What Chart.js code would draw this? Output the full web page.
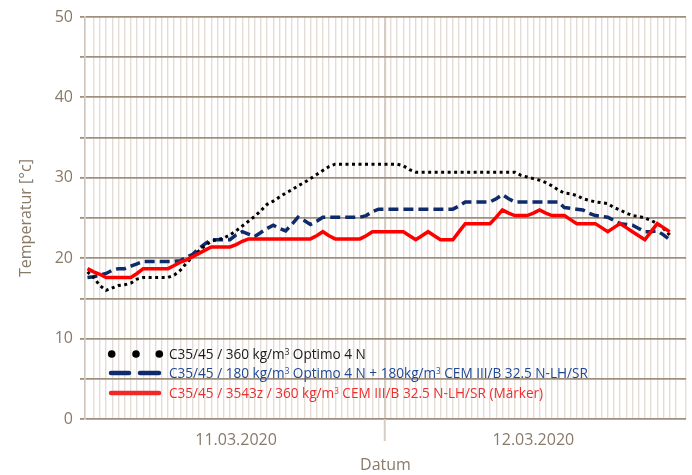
<!DOCTYPE html>
<html><head><meta charset="utf-8">
<script src="https://cdn.jsdelivr.net/npm/chart.js@4/dist/chart.umd.min.js"></script>
<style>
html,body{margin:0;padding:0;background:#fff;}
#wrap{position:relative;width:692px;height:475px;}
#legend{position:absolute;left:105px;top:0;font-family:"Open Sans",sans-serif;font-size:13.6px;}
.row{position:absolute;left:0;white-space:nowrap;height:20px;display:flex;align-items:center;}
.row svg{flex:0 0 auto;}
.row span{margin-left:0;line-height:20px;}
sup{font-size:0.6em;vertical-align:0.55em;line-height:0;}
</style></head>
<body>
<div id="wrap">
<canvas id="c" width="692" height="475"></canvas>
<div id="legend"></div>
</div>
<script>
// time axis: hours since 11.03.2020 00:00, half-hourly readings
const hours = [0,0.5,1,1.5,2,2.5,3,3.5,4,4.5,5,5.5,6,6.5,7,7.5,8,8.5,9,9.5,10,10.5,11,11.5,12,12.5,13,13.5,14,14.5,15,15.5,16,16.5,17,17.5,18,18.5,19,19.5,20,20.5,21,21.5,22,22.5,23,23.5,24,24.5,25,25.5,26,26.5,27,27.5,28,28.5,29,29.5,30,30.5,31,31.5,32,32.5,33,33.5,34,34.5,35,35.5,36,36.5,37,37.5,38,38.5,39,39.5,40,40.5,41,41.5,42,42.5,43,43.5,44,44.5,45,45.5,46,46.5,47];

const optimo = [18.3,17.6,16.6,16.0,16.3,16.6,16.7,16.9,17.4,17.6,
 17.6,17.6,17.6,17.6,17.9,18.5,19.4,20.2,20.9,21.6,
 22.1,22.3,22.5,22.9,23.4,24.0,24.6,25.2,25.9,26.7,
 27.1,27.6,28.1,28.5,29.0,29.4,29.9,30.4,30.9,31.4,
 31.7,31.7,31.7,31.7,31.7,31.7,31.7,31.7,31.7,31.7,
 31.7,31.5,31.0,30.7,30.7,30.7,30.7,30.7,30.7,30.7,
 30.7,30.7,30.7,30.7,30.7,30.7,30.7,30.7,30.7,30.7,
 30.3,30.1,29.9,29.7,29.4,29.0,28.5,28.1,28.0,27.8,
 27.4,27.2,27.0,26.9,26.8,26.3,26.0,25.6,25.3,25.2,
 25.0,24.7,24.3,23.7,22.9];

const optimoCem = [17.6,17.7,17.9,18.1,18.5,18.7,18.7,19.0,19.3,19.6,
 19.6,19.6,19.6,19.6,19.6,19.7,20.1,20.5,21.2,21.8,
 22.3,22.3,22.3,22.3,22.9,23.3,23.0,22.7,23.2,23.7,
 24.1,23.7,23.4,24.2,25.1,24.7,24.2,24.6,25.1,25.1,
 25.1,25.1,25.1,25.1,25.1,25.3,25.8,26.1,26.1,26.1,
 26.1,26.1,26.1,26.1,26.1,26.1,26.1,26.1,26.1,26.1,
 26.5,27.0,27.0,27.0,27.0,27.0,27.4,27.9,27.4,27.0,
 27.0,27.0,27.0,27.0,27.0,27.0,27.0,26.3,26.2,26.1,
 26.0,25.6,25.3,25.2,25.1,24.7,24.3,24.2,24.1,23.7,
 23.3,23.3,23.4,22.9,22.3];

const cemMaerker = [18.7,18.3,18.0,17.6,17.6,17.6,17.6,17.6,18.1,18.7,
 18.7,18.7,18.7,18.7,19.1,19.5,19.8,20.2,20.6,21.0,
 21.4,21.4,21.4,21.4,21.7,22.1,22.4,22.4,22.4,22.4,
 22.4,22.4,22.4,22.4,22.4,22.4,22.4,22.8,23.3,22.8,
 22.4,22.4,22.4,22.4,22.4,22.8,23.3,23.3,23.3,23.3,
 23.3,23.3,22.8,22.3,22.8,23.3,22.8,22.3,22.3,22.3,
 23.3,24.3,24.3,24.3,24.3,24.3,25.1,26.0,25.6,25.3,
 25.3,25.3,25.6,26.0,25.6,25.3,25.3,25.3,24.8,24.3,
 24.3,24.3,24.3,23.8,23.3,23.8,24.3,23.8,23.3,22.8,
 22.3,23.3,24.3,23.8,23.3];

const dayLabels = [{at:12, text:'11.03.2020'}, {at:36, text:'12.03.2020'}];
const dayBoundary = 24;
const seriesNames = [
  'C35/45 / 360 kg/m<sup>3</sup> Optimo 4 N',
  'C35/45 / 180 kg/m<sup>3</sup> Optimo 4 N + 180kg/m<sup>3</sup> CEM III/B 32.5 N-LH/SR',
  'C35/45 / 3543z / 360 kg/m<sup>3</sup> CEM III/B 32.5 N-LH/SR (Märker)'
];

const TXT = 'rgb(137,122,106)';
const HGRID = 'rgb(158,143,127)';
const VGRID = 'rgb(227,221,214)';
const FONT = '"Open Sans", sans-serif';
const BLACK = '#000000', BLUE = 'rgb(14,44,108)', RED = 'rgb(255,0,0)';

const pts = arr => arr.map((v, i) => ({x: hours[i], y: v}));
const near = (a, b) => Math.abs(a - b) < 1e-6;

const dayTick = {
  id: 'dayTick',
  afterDraw(chart) {
    const xs = chart.scales.x, ca = chart.chartArea, ctx = chart.ctx;
    const px = xs.getPixelForValue(dayBoundary);
    ctx.save();
    ctx.strokeStyle = 'rgb(214,206,197)';
    ctx.lineWidth = 2;
    ctx.beginPath();
    ctx.moveTo(px, ca.bottom);
    ctx.lineTo(px, ca.bottom + 22);
    ctx.stroke();
    ctx.restore();
  }
};

new Chart(document.getElementById('c'), {
  type: 'line',
  data: {
    datasets: [
      {label: 'optimo', data: pts(optimo), borderColor: BLACK, borderWidth: 3, borderDash: [3, 3.5], pointRadius: 0, tension: 0, order: 1},
      {label: 'optimoCem', data: pts(optimoCem), borderColor: BLUE, borderWidth: 3.5, borderDash: [10, 5], pointRadius: 0, tension: 0, order: 2},
      {label: 'cemMaerker', data: pts(cemMaerker), borderColor: RED, borderWidth: 3.5, pointRadius: 0, tension: 0, order: 0}
    ]
  },
  options: {
    responsive: false,
    animation: false,
    events: [],
    layout: {padding: {left: 0, right: 6, top: 17, bottom: 0}},
    plugins: {legend: {display: false}, tooltip: {enabled: false}},
    scales: {
      x: {
        type: 'linear', min: -0.2, max: 48.32,
        ticks: {
          stepSize: 0.5, autoSkip: false, maxRotation: 0, minRotation: 0, padding: 12,
          color: TXT, font: {family: FONT, size: 16},
          callback: v => { const d = dayLabels.find(l => near(l.at, v)); return d ? d.text : ''; }
        },
        grid: {
          drawTicks: false,
          color: c => (c.tick && near(c.tick.value, dayBoundary)) ? 'rgb(214,206,197)' : VGRID,
          lineWidth: c => (c.tick && near(c.tick.value, dayBoundary)) ? 2.2 : 1.4
        },
        border: {display: false},
        title: {display: true, text: 'Datum', color: TXT, font: {family: FONT, size: 16}, padding: {top: 0, bottom: 0}},
        afterFit: s => { s.height = 56; s.paddingLeft = 0; s.paddingRight = 0; }
      },
      y: {
        min: 0, max: 50,
        ticks: {
          stepSize: 5, padding: 7, color: TXT, font: {family: FONT, size: 16},
          callback: v => (v % 10 === 0 ? String(v) : '')
        },
        grid: {color: HGRID, lineWidth: 1.8, tickLength: 5, tickColor: HGRID},
        border: {display: true, color: 'rgb(205,197,189)', width: 1.5},
        title: {display: true, text: 'Temperatur [°c]', color: TXT, font: {family: FONT, size: 16}, padding: {top: 17, bottom: 0}},
        afterFit: s => { s.width = 85; }
      }
    }
  },
  plugins: [dayTick]
});

// legend (HTML, inside plot area)
const legendRows = [
  {center: 354, color: '#1a1a1a', marker: '<circle cx="6.7" cy="10" r="3.8" fill="#000"/><circle cx="31" cy="10" r="3.8" fill="#000"/><circle cx="54.3" cy="10" r="3.8" fill="#000"/>'},
  {center: 373, color: 'rgb(30,72,150)', marker: '<line x1="6" y1="10" x2="24" y2="10" stroke="rgb(14,44,108)" stroke-width="4.5" stroke-linecap="round"/><line x1="35" y1="10" x2="54" y2="10" stroke="rgb(14,44,108)" stroke-width="4.5" stroke-linecap="round"/>'},
  {center: 393, color: 'rgb(240,45,45)', marker: '<line x1="6" y1="10" x2="54" y2="10" stroke="rgb(240,40,40)" stroke-width="4.5" stroke-linecap="round"/>'}
];
const lg = document.getElementById('legend');
legendRows.forEach((r, i) => {
  const d = document.createElement('div');
  d.className = 'row';
  d.style.top = (r.center - 10) + 'px';
  d.innerHTML = '<svg width="64" height="20">' + r.marker + '</svg><span style="color:' + r.color + '">' + seriesNames[i] + '</span>';
  lg.appendChild(d);
});
</script>
</body></html>
